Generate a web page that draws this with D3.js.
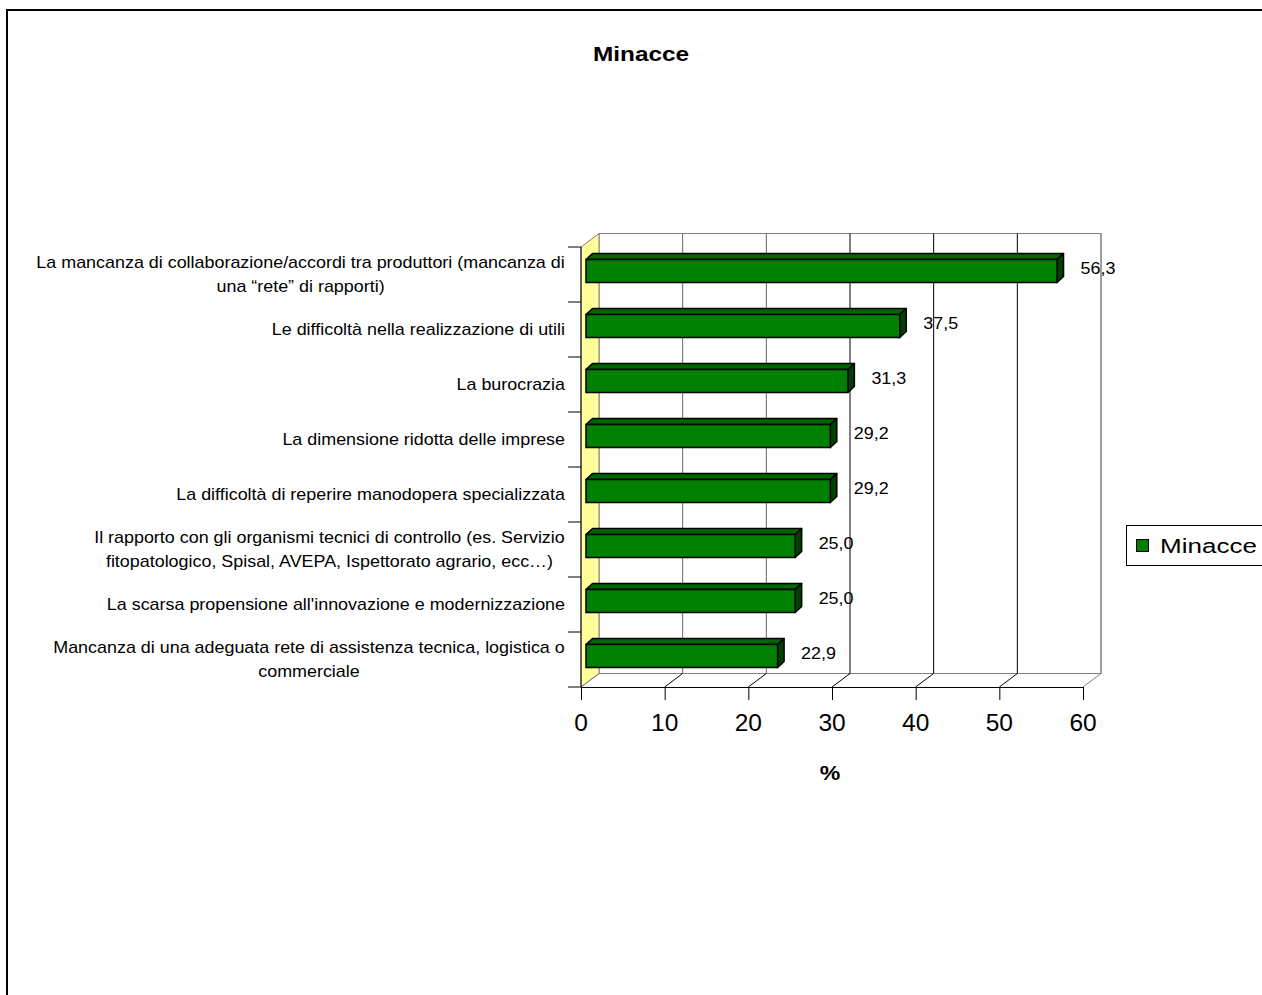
<!DOCTYPE html>
<html>
<head>
<meta charset="utf-8">
<script src="https://cdn.jsdelivr.net/npm/d3@7"></script>
<style>
  html, body { margin: 0; padding: 0; background: #fff; overflow: hidden; }
  svg { display: block; }
  text { font-family: "Liberation Sans", Arial, sans-serif; fill: #000; }
</style>
</head>
<body>
<svg id="chart" width="1262" height="995"></svg>
<script>
// ---- data ----
const chartTitle = "Minacce";
const seriesName = "Minacce";
const axisTitle = "%";
const categories = [
  ["La mancanza di collaborazione/accordi tra produttori (mancanza di", "una “rete” di rapporti)"],
  ["Le difficoltà nella realizzazione di utili"],
  ["La burocrazia"],
  ["La dimensione ridotta delle imprese"],
  ["La difficoltà di reperire manodopera specializzata"],
  ["Il rapporto con gli organismi tecnici di controllo (es. Servizio", "fitopatologico, Spisal, AVEPA, Ispettorato agrario, ecc…)"],
  ["La scarsa propensione all'innovazione e modernizzazione"],
  ["Mancanza di una adeguata rete di assistenza tecnica, logistica o", "commerciale"]
];
const values = [56.3, 37.5, 31.3, 29.2, 29.2, 25.0, 25.0, 22.9];
const valueLabels = ["56,3", "37,5", "31,3", "29,2", "29,2", "25,0", "25,0", "22,9"];
const xTicks = [0, 10, 20, 30, 40, 50, 60];

// ---- layout ----
const svg = d3.select("#chart");
const FONT = '"Liberation Sans", Arial, sans-serif';
const front = { left: 581, right: 1083, top: 247, bottom: 687 };
const depth = { dx: 18, dy: -13.5 };
const barOff = { dx: 5, dy: 0 };     // front face offset of bars
const barDepth = { dx: 6.5, dy: -6 }; // bar thickness
const stretch = 1.12;

const x = d3.scaleLinear().domain([0, 60]).range([front.left, front.right]);
const y = d3.scaleBand().domain(d3.range(categories.length)).range([front.top, front.bottom]).paddingInner(0).paddingOuter(0);

function stext(g, str, tx, ty, opts) {
  const t = g.append("text")
    .attr("transform", `translate(${tx},${ty}) scale(${opts.sx || stretch},1)`)
    .attr("text-anchor", opts.anchor || "start")
    .attr("dominant-baseline", "central")
    .style("font-size", opts.size + "px")
    .style("font-weight", opts.bold ? "bold" : "normal")
    .text(str);
  return t;
}

// outer border
svg.append("rect").attr("x", 7).attr("y", 10).attr("width", 1300).attr("height", 1100)
  .attr("fill", "none").attr("stroke", "#000").attr("stroke-width", 2);

// title
stext(svg, chartTitle, 641, 54, { anchor: "middle", size: 21, bold: true, sx: 1.16 });

const grid = "#808080";
// back wall border
svg.append("rect")
  .attr("x", x(0) + depth.dx).attr("y", front.top + depth.dy)
  .attr("width", x(60) - x(0)).attr("height", front.bottom - front.top)
  .attr("fill", "#fff").attr("stroke", grid).attr("stroke-width", 1);

// left wall (yellow)
svg.append("polygon")
  .attr("points", [
    [x(0), front.top], [x(0) + depth.dx, front.top + depth.dy],
    [x(0) + depth.dx, front.bottom + depth.dy], [x(0), front.bottom]
  ].map(p => p.join(",")).join(" "))
  .attr("fill", "#FFFF99").attr("stroke", grid).attr("stroke-width", 1);

// gridlines on back wall
svg.append("g").selectAll("line").data(xTicks.slice(1)).join("line")
  .attr("x1", d => x(d) + depth.dx).attr("x2", d => x(d) + depth.dx)
  .attr("y1", front.top + depth.dy).attr("y2", front.bottom + depth.dy)
  .attr("stroke", d => d === 60 ? grid : (d < 30 ? "#666" : "#000")).attr("stroke-width", 1);

// floor diagonals
svg.append("g").selectAll("line").data(xTicks).join("line")
  .attr("x1", d => x(d)).attr("y1", front.bottom)
  .attr("x2", d => x(d) + depth.dx).attr("y2", front.bottom + depth.dy)
  .attr("stroke", d => d === 0 || d === 60 ? grid : "#000").attr("stroke-width", 1);

// x axis (front)
const xAxis = d3.axisBottom(x).tickValues(xTicks).tickSize(13).tickSizeOuter(0).tickFormat(d3.format("d"));
const gx = svg.append("g").attr("transform", `translate(0,${front.bottom})`).call(xAxis);
gx.select(".domain").attr("stroke", "#000");
gx.selectAll(".tick line").attr("stroke", "#000");
gx.selectAll(".tick text").remove();
xTicks.forEach(v => stext(gx, String(v), x(v), 35, { anchor: "middle", size: 24.5, sx: 1.0 }));

// y axis (front)
svg.append("line").attr("x1", front.left).attr("x2", front.left)
  .attr("y1", front.top).attr("y2", front.bottom).attr("stroke", "#000");
const yTickPos = d3.range(categories.length + 1).map(i => front.top + i * y.step());
svg.append("g").selectAll("line").data(yTickPos).join("line")
  .attr("x1", front.left - 13).attr("x2", front.left)
  .attr("y1", d => d).attr("y2", d => d).attr("stroke", "#000");

// category labels
const lab = svg.append("g");
categories.forEach((lines, i) => {
  const cy = y(i) + y.bandwidth() / 2;
  const lh = 24;
  const tmp = lab.append("text").style("font-size", "16px").style("font-family", FONT);
  let maxW = 0;
  lines.forEach(l => { tmp.text(l); maxW = Math.max(maxW, tmp.node().getComputedTextLength()); });
  tmp.remove();
  const cx = 565 - (maxW * stretch) / 2;
  lines.forEach((l, j) => {
    const ly = cy + (j - (lines.length - 1) / 2) * lh;
    if (lines.length === 1) stext(lab, l, 565, ly, { anchor: "end", size: 16 });
    else stext(lab, l, cx, ly, { anchor: "middle", size: 16 });
  });
});

// bars
const bars = svg.append("g");
const bh = 23;
values.forEach((v, i) => {
  const x0 = x(0) + barOff.dx;
  const x1 = x(v) + barOff.dx;
  const yt = y(i) + 12.5;
  const yb = yt + bh;
  const dx = barDepth.dx, dy = barDepth.dy;
  bars.append("polygon")
    .attr("points", [[x0, yt], [x0 + dx, yt + dy], [x1 + dx, yt + dy], [x1, yt]].map(p => p.join(",")).join(" "))
    .attr("fill", "#006400").attr("stroke", "#000").attr("stroke-width", 1.5).attr("stroke-linejoin", "round");
  bars.append("polygon")
    .attr("points", [[x1, yt], [x1 + dx, yt + dy], [x1 + dx, yb + dy], [x1, yb]].map(p => p.join(",")).join(" "))
    .attr("fill", "#004000").attr("stroke", "#000").attr("stroke-width", 1.5).attr("stroke-linejoin", "round");
  bars.append("rect")
    .attr("x", x0).attr("y", yt).attr("width", x1 - x0).attr("height", bh)
    .attr("fill", "#008000").attr("stroke", "#000").attr("stroke-width", 1.5);
});

// value labels
const vl = svg.append("g");
values.forEach((v, i) => {
  stext(vl, valueLabels[i], x(v) + barOff.dx + barDepth.dx + 17, y(i) + y.bandwidth() / 2 - 6, { anchor: "start", size: 16 });
});

// axis title
stext(svg, axisTitle, 830, 773, { anchor: "middle", size: 21, bold: true, sx: 1.1 });

// legend
const lg = svg.append("g");
lg.append("rect").attr("x", 1126.5).attr("y", 525.5).attr("width", 200).attr("height", 40)
  .attr("fill", "#fff").attr("stroke", "#000").attr("stroke-width", 1);
lg.append("rect").attr("x", 1136.5).attr("y", 539.5).attr("width", 12).attr("height", 12)
  .attr("fill", "#008000").attr("stroke", "#000").attr("stroke-width", 1);
stext(lg, seriesName, 1160, 546, { anchor: "start", size: 21, sx: 1.24 });
</script>
</body>
</html>
